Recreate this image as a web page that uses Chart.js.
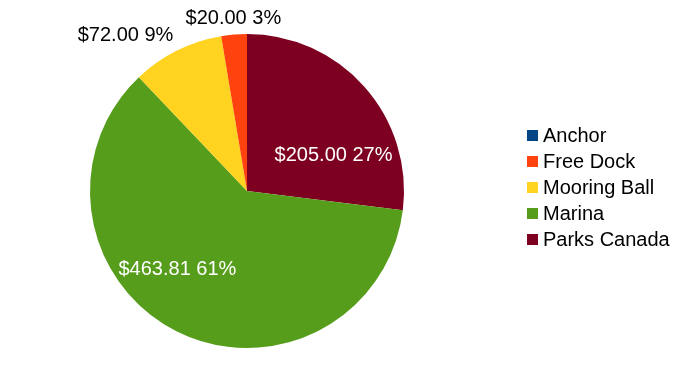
<!DOCTYPE html>
<html>
<head>
<meta charset="utf-8">
<script src="https://cdn.jsdelivr.net/npm/chart.js@4/dist/chart.umd.min.js"></script>
<style>
  html, body { margin: 0; padding: 0; background: #fff; }
  #wrap { width: 685px; height: 376px; position: relative; }
</style>
</head>
<body>
<div id="wrap"><canvas id="pie-chart"></canvas></div>
<script>
// Slices in drawing order (clockwise from 12 o'clock)
const categories = ['Parks Canada', 'Marina', 'Mooring Ball', 'Free Dock', 'Anchor'];
const amounts = [205.00, 463.81, 72.00, 20.00, 0];
const sliceColors = ['#7e0021', '#579d1c', '#ffd320', '#ff420e', '#004586'];

// Legend is listed bottom-up compared to the draw order
const legendOrder = ['Anchor', 'Free Dock', 'Mooring Ball', 'Marina', 'Parks Canada'];

const FONT = '"Liberation Sans", Arial, sans-serif';

// where the text goes for the big slices (angle from top in degrees, distance from centre)
const insideLabelSpot = { 'Parks Canada': [67, 94], 'Marina': [222, 104] };

const labelPlugin = {
    id: 'sliceLabels',
    afterDraw(chart) {
        const ctx = chart.ctx;
        const meta = chart.getDatasetMeta(0);
        const total = amounts.reduce((a, b) => a + b, 0);
        ctx.save();
        ctx.font = '20px ' + FONT;
        meta.data.forEach((arc, i) => {
            const v = amounts[i];
            if (!v) return;
            const pct = Math.round(v / total * 100);
            const text = '$' + v.toFixed(2) + ' ' + pct + '%';
            const cx = arc.x, cy = arc.y, r = arc.outerRadius;
            const spot = insideLabelSpot[categories[i]];
            if (spot) {
                const a = spot[0] * Math.PI / 180;
                ctx.fillStyle = '#ffffff';
                ctx.textAlign = 'center';
                ctx.textBaseline = 'middle';
                ctx.fillText(text, cx + spot[1] * Math.sin(a), cy - spot[1] * Math.cos(a) + 1);
            } else {
                // small slice, put the label outside the arc
                const mid = (arc.startAngle + arc.endAngle) / 2;
                const px = cx + (r + 8) * Math.cos(mid);
                const py = cy + (r + 8) * Math.sin(mid);
                const s = Math.cos(mid);
                ctx.fillStyle = '#000000';
                ctx.textAlign = Math.abs(s) < 0.2 ? 'center' : (s < 0 ? 'right' : 'left');
                ctx.textBaseline = 'bottom';
                ctx.fillText(text, px, py + 2);
            }
        });

        // legend on the right
        let y = 136;
        legendOrder.forEach(name => {
            const idx = categories.indexOf(name);
            ctx.fillStyle = sliceColors[idx];
            ctx.fillRect(527, y - 6, 11, 11);
            ctx.fillStyle = '#000000';
            ctx.textAlign = 'left';
            ctx.textBaseline = 'middle';
            ctx.fillText(name, 543, y);
            y += 26;
        });
        ctx.restore();
    }
};

const pieChart = new Chart(document.getElementById('pie-chart'), {
    type: 'pie',
    data: {
        labels: categories,
        datasets: [{
            data: amounts,
            backgroundColor: sliceColors,
            borderWidth: 0
        }]
    },
    options: {
        responsive: true,
        maintainAspectRatio: false,
        animation: false,
        layout: {
            padding: { left: 90, right: 281, top: 34, bottom: 28 }
        },
        plugins: {
            legend: { display: false },
            tooltip: { enabled: false }
        }
    },
    plugins: [labelPlugin]
});
</script>
</body>
</html>
